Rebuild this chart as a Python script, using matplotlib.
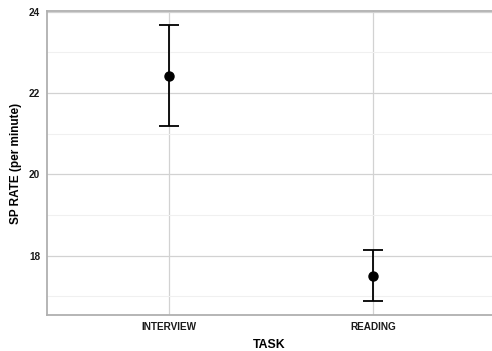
import os
import matplotlib
matplotlib.use("Agg")
import matplotlib.pyplot as plt
from matplotlib import font_manager
from matplotlib.ticker import MultipleLocator

# mean speaking rate per task, with lower / upper interval bounds
tasks = ["INTERVIEW", "READING"]
rate_mean = [22.43, 17.51]
rate_low = [21.18, 16.88]
rate_high = [23.68, 18.13]

# use the regular-width bold Liberation Sans file directly (avoid the Narrow cut)
bold_file = None
for f in font_manager.fontManager.ttflist:
    if os.path.basename(f.fname) == "LiberationSans-Bold.ttf":
        bold_file = f.fname
        break


def bold(size):
    if bold_file:
        return font_manager.FontProperties(fname=bold_file, size=size)
    return font_manager.FontProperties(family="DejaVu Sans", weight="bold", size=size)


W, H = 492, 351
fig = plt.figure(figsize=(W / 100, H / 100), dpi=100)
ax = fig.add_axes([47 / W, (H - 315) / H, (W - 47) / W, (315 - 11) / H])

xs = list(range(1, len(tasks) + 1))
err_lo = [m - l for m, l in zip(rate_mean, rate_low)]
err_hi = [h - m for m, h in zip(rate_mean, rate_high)]

ax.errorbar(xs, rate_mean, yerr=[err_lo, err_hi], fmt="o", color="black",
            ms=6.5, elinewidth=1.3, capsize=7.5, capthick=1.3, zorder=3)

# ggplot-like expansion: 0.6 units on the discrete axis, 5% on y
span = max(rate_high) - min(rate_low)
ax.set_ylim(min(rate_low) - 0.05 * span, max(rate_high) + 0.05 * span)
ax.set_xlim(0.4, 0.4 + (W - 47) / 204)

ax.set_xticks(xs)
ax.set_xticklabels(tasks)
ax.yaxis.set_major_locator(MultipleLocator(2))
ax.yaxis.set_minor_locator(MultipleLocator(1))

ax.grid(which="major", color="#d2d2d2", lw=0.9)
ax.grid(which="minor", axis="y", color="#f0f0f0", lw=0.8)
ax.set_axisbelow(True)

for side in ["top", "bottom", "left"]:
    ax.spines[side].set_color("#b0b0b0")
    ax.spines[side].set_linewidth(1.3)
ax.spines["right"].set_visible(False)

ax.tick_params(which="both", length=0, pad=5, labelcolor="#1a1a1a")
for lab in ax.get_xticklabels() + ax.get_yticklabels():
    lab.set_fontproperties(bold(7.2))

ax.set_xlabel("TASK", fontproperties=bold(8.8), labelpad=5)
ax.set_ylabel("SP RATE (per minute)", fontproperties=bold(8.5), labelpad=5)

fig.savefig("out.png", dpi=100)
